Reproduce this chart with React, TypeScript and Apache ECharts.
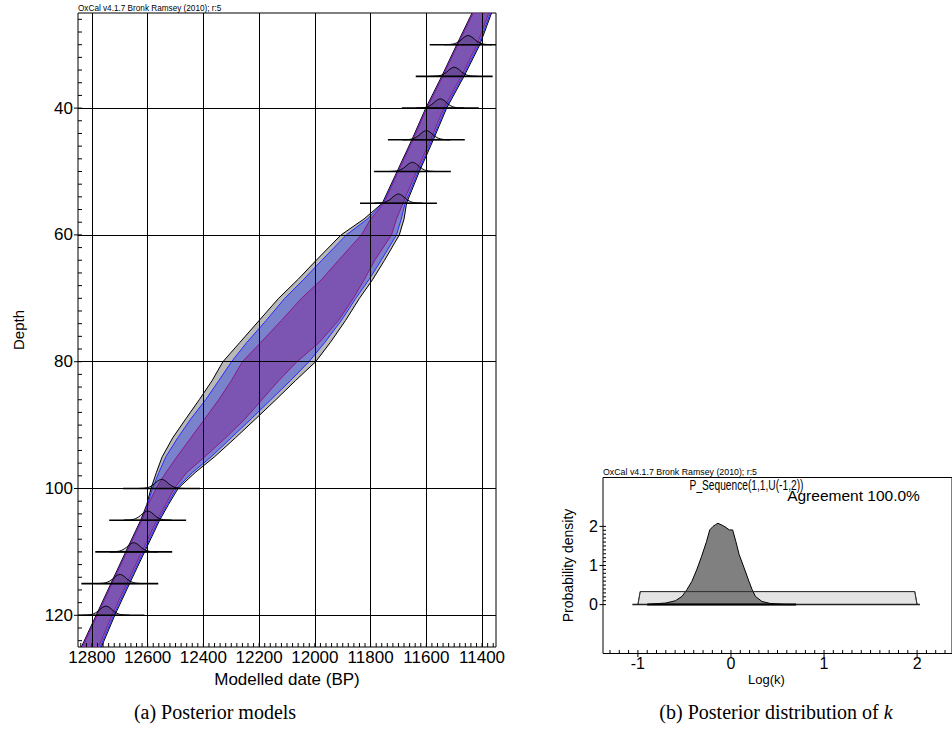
import React, { useEffect, useRef } from 'react';
import * as echarts from 'echarts';

// ---------- Left panel: depth model ----------
const dateTicks = [12800, 12600, 12400, 12200, 12000, 11800, 11600, 11400];
const depthTicks = [40, 60, 80, 100, 120];

const bandDepths = [25, 30, 35, 40, 45, 50, 55, 57.5, 60, 64, 67, 70, 73.5, 77, 80, 83, 86, 89, 92, 95, 97.5, 100, 102.5, 105, 110, 115, 120, 125];
const outerOld = [11436, 11491, 11545, 11602, 11652, 11705, 11758, 11824, 11906, 11995, 12060, 12130, 12200, 12270, 12330, 12369, 12415, 12463, 12510, 12548, 12569, 12588, 12603, 12625, 12679, 12732, 12785, 12838];
const outerYoung = [11366, 11408, 11465, 11527, 11575, 11625, 11671, 11680, 11697, 11750, 11792, 11840, 11890, 11945, 11997, 12070, 12140, 12212, 12285, 12360, 12430, 12491, 12525, 12557, 12611, 12665, 12718, 12766];
const blueOld = [11433, 11488, 11542, 11599, 11649, 11702, 11755, 11812, 11887, 11975, 12040, 12108, 12175, 12245, 12299, 12345, 12392, 12445, 12492, 12535, 12560, 12583, 12600, 12622, 12676, 12729, 12782, 12835];
const blueYoung = [11370, 11412, 11469, 11531, 11579, 11629, 11676, 11690, 11707, 11762, 11805, 11853, 11905, 11965, 12021, 12088, 12158, 12228, 12300, 12372, 12440, 12497, 12529, 12561, 12615, 12669, 12722, 12770];
const purpleOld = [11432, 11487, 11541, 11598, 11648, 11701, 11752, 11800, 11833, 11915, 11975, 12048, 12120, 12195, 12260, 12300, 12345, 12395, 12445, 12495, 12535, 12570, 12598, 12621, 12675, 12728, 12781, 12834];
const purpleYoung = [11376, 11418, 11475, 11537, 11585, 11635, 11684, 11707, 11725, 11785, 11822, 11862, 11915, 11985, 12064, 12130, 12190, 12250, 12320, 12395, 12460, 12505, 12535, 12567, 12621, 12675, 12728, 12776];

const sampleDepths = [30, 35, 40, 45, 50, 55, 100, 105, 110, 115, 120];
const samplePeaks = [11450, 11500, 11550, 11600, 11650, 11700, 12550, 12600, 12650, 12700, 12750];
const rangeOld = [11588, 11638, 11688, 11738, 11788, 11838, 12688, 12738, 12788, 12838, 12888];
const rangeYoung = [11312, 11362, 11412, 11462, 11512, 11562, 12412, 12462, 12512, 12562, 12612];
const gaussOffsets = [-85, -65, -50, -38, -26, -14, 0, 14, 26, 38, 50, 65, 85];
const gaussShape = [0, 0.03, 0.1, 0.25, 0.5, 0.82, 1, 0.82, 0.5, 0.25, 0.1, 0.03, 0];
const gaussHeight = 1.45;

// ---------- Right panel: posterior of k ----------
const logkTicks = [-1, 0, 1, 2];
const densityTicks = [0, 1, 2];
const priorX = [-1.0, -0.975, 1.975, 2.0];
const priorY = [0, 0.333, 0.333, 0];
const postX = [-0.9, -0.877, -0.7, -0.596, -0.526, -0.474, -0.421, -0.368, -0.316, -0.263, -0.228, -0.193, -0.168, -0.14, -0.087, -0.053, -0.017, 0.018, 0.053, 0.088, 0.141, 0.194, 0.228, 0.263, 0.333, 0.421, 0.596, 0.7];
const postY = [0, 0.01, 0.04, 0.1, 0.21, 0.38, 0.59, 0.89, 1.23, 1.61, 1.91, 2.0, 2.04, 2.08, 2.02, 1.97, 1.91, 1.91, 1.61, 1.28, 0.94, 0.59, 0.38, 0.21, 0.08, 0.03, 0, 0];
const baselineX = [-1.06, 2.03];
const rangeBarX = [-0.9, 0.7];

const range = (a: number, b: number, s: number) => {
  const out: number[] = [];
  for (let v = a; v <= b + 1e-9; v += s) out.push(Math.round(v * 1000) / 1000);
  return out;
};

const FONT = '"Liberation Sans", Arial, sans-serif';
const SERIF = '"Liberation Serif", "DejaVu Serif", serif';
const plain = (v: number) => String(v);

const X0 = { min: 11350, max: 12850 };
const Y0 = { min: 25, max: 125 };
const X1 = { min: -1.375, max: 2.375 };
const Y1 = { min: -1.25, max: 3.25 };

const bands = [
  { old: outerOld, young: outerYoung, fill: '#b9b9b9', stroke: '#000000' },
  { old: blueOld, young: blueYoung, fill: '#7b82cc', stroke: '#2a2aff' },
  { old: purpleOld, young: purpleYoung, fill: '#7b55b1', stroke: '#8a1a8a' },
];

// tick marks drawn at an edge of a grid, as one polyline-free group per series
const tickSeries = (xi: number, yi: number, pts: number[][], dx: number, dy: number) => ({
  type: 'custom', xAxisIndex: xi, yAxisIndex: yi, silent: true, z: 6, clip: false,
  data: [0],
  renderItem: (params: any, api: any) => ({
    type: 'group',
    children: pts.map((v) => {
      const p = api.coord(v);
      return { type: 'line', shape: { x1: p[0], y1: p[1], x2: p[0] + dx, y2: p[1] + dy }, style: { stroke: '#000', lineWidth: 1 } };
    }),
  }),
});

export default function App() {
  const ref = useRef<HTMLDivElement>(null);
  useEffect(() => {
    const chart = echarts.init(ref.current!, null, { renderer: 'svg' });
    const option: any = {
      animation: false,
      textStyle: { fontFamily: FONT },
      grid: [
        { left: 78, top: 13, width: 418, height: 634, show: true, borderColor: '#000', borderWidth: 1, backgroundColor: 'transparent' },
        { left: 603, top: 477.5, width: 356, height: 176, show: true, borderColor: '#000', borderWidth: 1, backgroundColor: 'transparent' },
      ],
      xAxis: [
        {
          gridIndex: 0, type: 'value', ...X0, inverse: true, z: 3, position: 'bottom',
          axisLine: { show: false, onZero: false },
          axisTick: { show: false, customValues: dateTicks },
          axisLabel: { customValues: dateTicks, formatter: plain, fontSize: 17, color: '#000', margin: 2, fontFamily: FONT },
          splitLine: { show: true, lineStyle: { color: '#000', width: 1 } },
          name: 'Modelled date (BP)', nameLocation: 'middle', nameGap: 21,
          nameTextStyle: { fontSize: 17, color: '#000', fontFamily: FONT },
        },
        {
          gridIndex: 1, type: 'value', ...X1, z: 3, position: 'bottom',
          axisLine: { show: false, onZero: false },
          axisTick: { show: false, customValues: logkTicks },
          axisLabel: { customValues: logkTicks, formatter: plain, fontSize: 16, color: '#000', margin: 2, fontFamily: FONT },
          splitLine: { show: false },
          name: 'Log(k)', nameLocation: 'middle', nameGap: 19,
          nameTextStyle: { fontSize: 13, color: '#000', padding: [0, 22, 0, 0], fontFamily: FONT },
        },
      ],
      yAxis: [
        {
          gridIndex: 0, type: 'value', ...Y0, inverse: true, z: 3, position: 'left',
          axisLine: { show: false, onZero: false },
          axisTick: { show: false, customValues: depthTicks },
          axisLabel: { customValues: depthTicks, formatter: plain, fontSize: 17, color: '#000', margin: 5, fontFamily: FONT },
          splitLine: { show: true, lineStyle: { color: '#000', width: 1 } },
          name: 'Depth', nameLocation: 'middle', nameGap: 52,
          nameTextStyle: { fontSize: 15, color: '#000', fontFamily: FONT },
        },
        {
          gridIndex: 1, type: 'value', ...Y1, z: 3, position: 'left',
          axisLine: { show: false, onZero: false },
          axisTick: { show: false, customValues: densityTicks },
          axisLabel: { customValues: densityTicks, formatter: plain, fontSize: 16, color: '#000', margin: 5, fontFamily: FONT },
          splitLine: { show: false },
          name: 'Probability density', nameLocation: 'middle', nameGap: 28,
          nameTextStyle: { fontSize: 14, color: '#000', fontFamily: FONT },
        },
      ],
      series: [
        {
          type: 'custom', xAxisIndex: 0, yAxisIndex: 0, clip: true, silent: true,
          data: bands.map(() => [12100, 75]),
          renderItem: (params: any, api: any) => {
            const b = bands[params.dataIndex];
            const pts: number[][] = [];
            for (let i = 0; i < bandDepths.length; i++) pts.push(api.coord([b.old[i], bandDepths[i]]));
            for (let i = bandDepths.length - 1; i >= 0; i--) pts.push(api.coord([b.young[i], bandDepths[i]]));
            return { type: 'polygon', shape: { points: pts }, style: { fill: b.fill, stroke: b.stroke, lineWidth: 1 } };
          },
        },
        {
          type: 'custom', xAxisIndex: 0, yAxisIndex: 0, clip: true, silent: true, z: 4,
          data: sampleDepths.map((d, i) => [samplePeaks[i], d, rangeOld[i], rangeYoung[i]]),
          renderItem: (params: any, api: any) => {
            const peak = api.value(0);
            const depth = api.value(1);
            const pts = gaussOffsets.map((o, k) => api.coord([peak + o, depth - gaussShape[k] * gaussHeight]));
            const a = api.coord([api.value(2), depth]);
            const b = api.coord([api.value(3), depth]);
            return {
              type: 'group',
              children: [
                { type: 'polygon', shape: { points: pts, smooth: 0.3 }, style: { fill: 'rgba(0,0,0,0.13)', stroke: '#000', lineWidth: 1 } },
                { type: 'line', shape: { x1: a[0], y1: a[1], x2: b[0], y2: b[1] }, style: { stroke: '#000', lineWidth: 1.6 } },
              ],
            };
          },
        },
        // left panel ticks
        tickSeries(0, 0, range(11360, 12840, 20).map((v) => [v, Y0.max]), 0, -4),
        tickSeries(0, 0, range(26, 124, 2).map((v) => [X0.max, v]), 4, 0),
        tickSeries(0, 0, depthTicks.map((v) => [X0.max, v]), -4, 0),
        // right panel
        {
          type: 'line', xAxisIndex: 1, yAxisIndex: 1, symbol: 'none', silent: true,
          data: priorX.map((x, i) => [x, priorY[i]]),
          lineStyle: { color: '#555', width: 1 }, areaStyle: { color: '#e4e4e4', opacity: 1 },
        },
        {
          type: 'line', xAxisIndex: 1, yAxisIndex: 1, symbol: 'none', silent: true,
          data: postX.map((x, i) => [x, postY[i]]),
          lineStyle: { color: '#000', width: 1 }, areaStyle: { color: '#808080', opacity: 1 },
        },
        {
          type: 'line', xAxisIndex: 1, yAxisIndex: 1, symbol: 'none', silent: true,
          data: priorX.map((x, i) => [x, priorY[i]]),
          lineStyle: { color: '#333', width: 1 },
        },
        {
          type: 'line', xAxisIndex: 1, yAxisIndex: 1, symbol: 'none', silent: true,
          data: baselineX.map((x) => [x, 0]),
          lineStyle: { color: '#222', width: 1.5 },
        },
        {
          type: 'line', xAxisIndex: 1, yAxisIndex: 1, symbol: 'none', silent: true,
          data: rangeBarX.map((x) => [x, 0]),
          lineStyle: { color: '#000', width: 2 },
        },
        tickSeries(1, 1, range(-1.3, 2.3, 0.1).map((v) => [v, Y1.min]), 0, -3.5),
        tickSeries(1, 1, logkTicks.map((v) => [v, Y1.min]), 0, 3.5),
        tickSeries(1, 1, range(0, 2, 0.1).map((v) => [X1.min, v]), 3, 0),
        tickSeries(1, 1, densityTicks.map((v) => [X1.min, v]), -3.5, 0),
      ],
      graphic: [
        { type: 'text', x: 78, y: 12, style: { text: 'OxCal v4.1.7 Bronk Ramsey (2010); r:5', fontSize: 8.2, fontFamily: FONT, fill: '#000', textVerticalAlign: 'bottom' } },
        { type: 'text', x: 603, y: 476.5, style: { text: 'OxCal v4.1.7 Bronk Ramsey (2010); r:5', fontSize: 8.8, fontFamily: FONT, fill: '#000', textVerticalAlign: 'bottom' } },
        { type: 'text', x: 746.5, y: 485, scaleX: 0.68, style: { text: 'P_Sequence(1,1,U(-1,2))', fontSize: 15, fontFamily: FONT, fill: '#000', textAlign: 'center', textVerticalAlign: 'middle' } },
        { type: 'text', x: 853.5, y: 495.5, style: { text: 'Agreement 100.0%', fontSize: 15.5, fontFamily: FONT, fill: '#000', textAlign: 'center', textVerticalAlign: 'middle' } },
        { type: 'text', x: 215, y: 712, style: { text: '(a) Posterior models', fontSize: 20, fontFamily: SERIF, fill: '#000', textAlign: 'center', textVerticalAlign: 'middle' } },
        {
          type: 'text', x: 776, y: 712,
          style: {
            text: '{n|(b) Posterior distribution of }{i|k}', textAlign: 'center', textVerticalAlign: 'middle',
            rich: {
              n: { fontSize: 20, fontFamily: SERIF, fill: '#000' },
              i: { fontSize: 20, fontFamily: SERIF, fontStyle: 'italic', fill: '#000' },
            },
          },
        },
      ],
    };
    chart.setOption(option);
    return () => chart.dispose();
  }, []);
  return <div ref={ref} style={{ position: 'absolute', left: 0, top: 0, width: 952, height: 733 }} />;
}
